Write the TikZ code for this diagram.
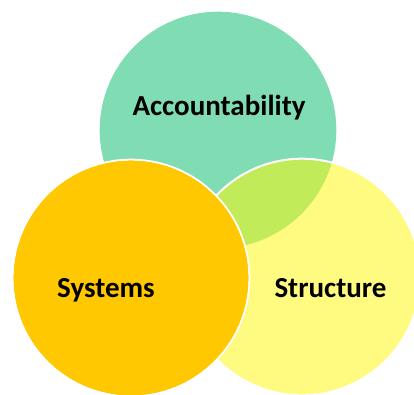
\documentclass[tikz,border=0pt]{standalone}
\usepackage{fontspec}
\setmainfont{Carlito}
\begin{document}
\begin{tikzpicture}[x=1pt,y=-1pt,
  label text/.style={font=\fontsize{29}{33}\selectfont\bfseries, text=black, inner sep=0pt, anchor=base},
  ring/.style={draw=white, line width=2pt}]
\definecolor{accgreen}{RGB}{128,220,178}
\definecolor{strucyellow}{RGB}{255,250,128}
\definecolor{sysorange}{RGB}{255,200,0}
\definecolor{overlaplime}{RGB}{194,235,90}
\useasboundingbox (0,0) rectangle (414,394);
\clip (0,0) rectangle (414,394);
% circle centres and radius
\coordinate (cA) at (218,130);
\coordinate (cS) at (302,277);
\coordinate (cY) at (131,278);
\def\rad{118.3}
% accountability
\fill[accgreen] (cA) circle[radius=\rad];
% structure
\fill[strucyellow] (cS) circle[radius=\rad];
% overlap of accountability and structure
\begin{scope}
  \clip (cA) circle[radius=\rad];
  \fill[overlaplime] (cS) circle[radius=\rad];
\end{scope}
\draw[ring] (cS) circle[radius=\rad];
% systems on top
\filldraw[sysorange, ring] (cY) circle[radius=\rad];
\fill[sysorange] (cY) circle[radius=\rad-1pt];
% labels
\node[label text] (acc) at (219,115) {Accountability};
\node[label text] (sys) at (106,297) {Systems};
\node[label text] (str) at (330.5,297) {Structure};
\end{tikzpicture}
\end{document}
